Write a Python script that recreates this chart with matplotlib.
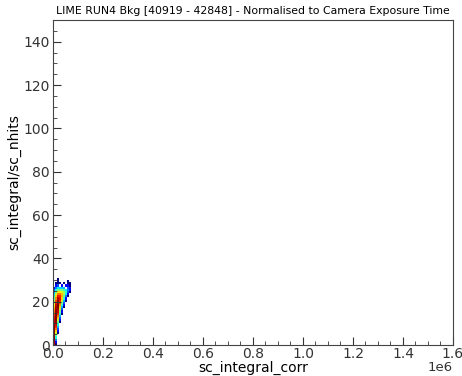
import matplotlib
matplotlib.use("Agg")
import matplotlib.pyplot as plt
import numpy as np
from matplotlib.colors import LogNorm
from matplotlib.ticker import MultipleLocator, FuncFormatter

# binning of the 2D histogram
x_bin_width = 8000
y_bin_width = 1.0
x_max = 1.6e6
y_max = 150

# counts per bin: rows are sc_integral/sc_nhits bins (from 0 upward),
# columns are sc_integral_corr bins (from 0 upward)
counts = [
    [150, 1],
    [170, 2],
    [190, 4],
    [200, 8],
    [210, 15],
    [210, 25, 1],
    [210, 40, 2],
    [200, 70, 3],
    [200, 110, 5],
    [190, 150, 8],
    [170, 190, 14, 1],
    [150, 210, 25, 2],
    [130, 220, 45, 3],
    [110, 220, 70, 5],
    [90, 210, 110, 9, 1],
    [70, 200, 150, 15, 2],
    [55, 190, 190, 25, 3],
    [40, 170, 210, 40, 5, 1],
    [30, 150, 220, 60, 9, 2],
    [22, 120, 210, 90, 15, 3],
    [16, 90, 200, 120, 25, 5, 1],
    [12, 60, 170, 130, 40, 9, 2],
    [9, 40, 120, 110, 50, 15, 4, 1],
    [6, 25, 70, 70, 45, 20, 7, 2],
    [4, 14, 35, 35, 28, 18, 9, 3, 1],
    [3, 8, 15, 15, 14, 11, 7, 4, 2],
    [2, 4, 7, 6, 6, 5, 0, 3, 2],
    [0, 2, 3, 0, 2, 0, 2, 2, 1],
    [0, 1, 1, 1, 0, 1, 0, 1, 1],
    [0, 0, 1, 0, 0, 0, 0, 1, 0],
    [0, 0, 1],
]

title = "LIME RUN4 Bkg [40919 - 42848] - Normalised to Camera Exposure Time"
x_scale = 1e6

# flatten the count table into bin centres + weights
xs, ys, ws = [], [], []
for iy, row in enumerate(counts):
    for ix, c in enumerate(row):
        if c > 0:
            xs.append((ix + 0.5) * x_bin_width)
            ys.append((iy + 0.5) * y_bin_width)
            ws.append(c)

x_edges = np.arange(0, x_max + x_bin_width, x_bin_width)
y_edges = np.arange(0, y_max + y_bin_width, y_bin_width)

fig = plt.figure(figsize=(4.62, 3.76), dpi=100)
ax = fig.add_axes([0.1147, 0.0824, 0.8658, 0.8644])

ax.hist2d(xs, ys, bins=[x_edges, y_edges], weights=ws, cmap="jet",
          norm=LogNorm(vmin=1, vmax=220), cmin=1)

ax.set_xlim(0, x_max)
ax.set_ylim(0, y_max)
ax.set_title(title, fontsize=7.8, pad=4)
ax.set_xlabel("sc_integral_corr", fontsize=10, labelpad=0)
ax.set_ylabel("sc_integral/sc_nhits", fontsize=10, labelpad=1)

ax.xaxis.set_major_locator(MultipleLocator(0.2e6))
ax.xaxis.set_minor_locator(MultipleLocator(0.05e6))
ax.xaxis.set_major_formatter(FuncFormatter(lambda v, p: f"{v / x_scale:.1f}"))
ax.yaxis.set_major_locator(MultipleLocator(20))
ax.yaxis.set_minor_locator(MultipleLocator(5))
ax.tick_params(which="both", direction="in", labelsize=10, colors="#333333")
ax.tick_params(axis="x", which="major", pad=1.5)
ax.tick_params(axis="y", which="major", pad=2.5)
ax.tick_params(which="major", length=6)
ax.tick_params(which="minor", length=3)

# multiplier for the x axis, just under the last tick label
ax.text(1.0, -0.05, "1e6", transform=ax.transAxes, ha="right", va="top",
        fontsize=9.5, color="#333333")

for s in ax.spines.values():
    s.set_linewidth(0.8)
    s.set_color("#444444")

fig.savefig("out.png", dpi=100)
